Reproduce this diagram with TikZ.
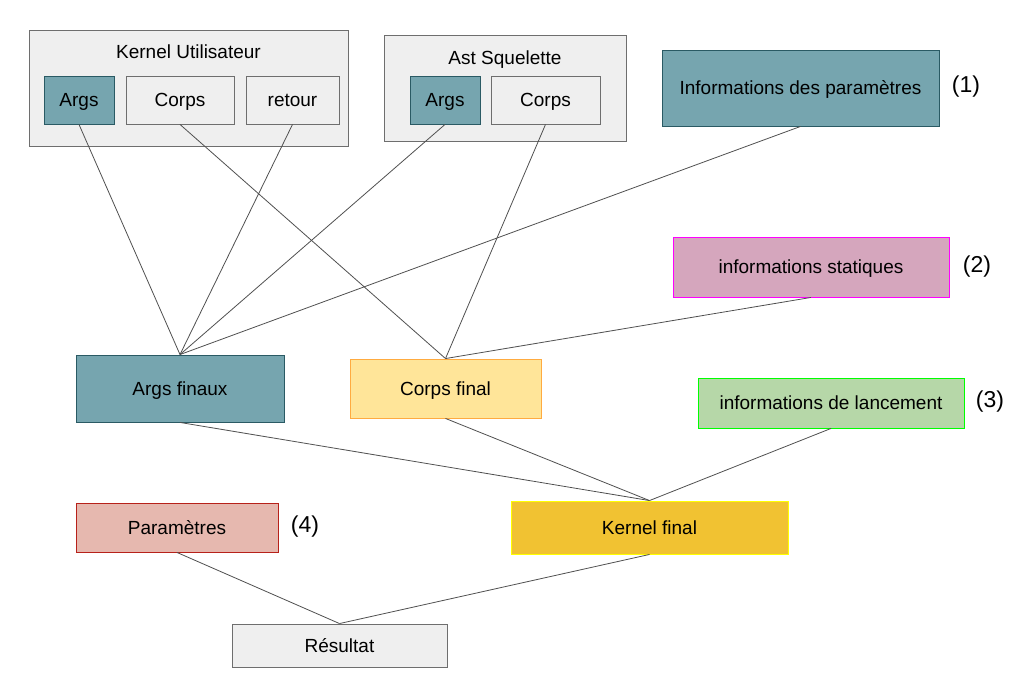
\documentclass[tikz,border=0pt]{standalone}
\usepackage{fontspec}
\setmainfont{Liberation Sans}
\definecolor{tealf}{HTML}{76A5AF}
\definecolor{teald}{HTML}{2A5A64}
\definecolor{grayf}{HTML}{EFEFEF}
\definecolor{grayd}{HTML}{6E6E6E}
\definecolor{pinkf}{HTML}{D5A6BD}
\definecolor{pinkd}{HTML}{FF00FF}
\definecolor{ylwf}{HTML}{FFE599}
\definecolor{ylwd}{HTML}{FFAB40}
\definecolor{grnf}{HTML}{B6D7A8}
\definecolor{grnd}{HTML}{00FF00}
\definecolor{redf}{HTML}{E6B8AF}
\definecolor{redd}{HTML}{B7211A}
\definecolor{goldf}{HTML}{F1C232}
\definecolor{goldd}{HTML}{FFFF00}
\definecolor{linec}{HTML}{505050}
\begin{document}
\begin{tikzpicture}[x=1pt,y=-1pt,
  box/.style={draw, line width=0.9pt, inner sep=0pt, font=\fontsize{19}{22}\selectfont, text=black, text height=13.6pt, text depth=0pt},
  graybox/.style={box, fill=grayf, draw=grayd},
  tealbox/.style={box, fill=tealf, draw=teald},
  title/.style={inner sep=0pt, font=\fontsize{19}{22}\selectfont, text height=13.6pt, text depth=0pt},
  num/.style={inner sep=0pt, font=\fontsize{23}{26}\selectfont},
  conn/.style={draw=linec, line width=0.8pt}]
\useasboundingbox[fill=white] (0,0) rectangle (1018,686);

% containers
\node[graybox, minimum width=319pt, minimum height=116pt] (ku) at (188.5,88) {};
\node[title] (kut) at (188.5,52) {Kernel Utilisateur};
\node[tealbox, minimum width=70pt, minimum height=48pt] (kua) at (79,100) {Args};
\node[graybox, minimum width=108pt, minimum height=48pt] (kuc) at (180,100) {Corps};
\node[graybox, minimum width=93pt, minimum height=48pt] (kur) at (292.5,100) {retour};

\node[graybox, minimum width=242pt, minimum height=106pt] (as) at (505,88) {};
\node[title] (ast) at (505,58) {Ast Squelette};
\node[tealbox, minimum width=70pt, minimum height=48pt] (asa) at (445,100) {Args};
\node[graybox, minimum width=109pt, minimum height=48pt] (asc) at (545.5,100) {Corps};

\node[tealbox, minimum width=277pt, minimum height=76pt] (ip) at (800.5,88) {Informations des paramètres};
\node[num] (n1) at (966,87) {(1)};
\node[box, fill=pinkf, draw=pinkd, minimum width=276pt, minimum height=60pt] (is) at (811,267) {informations statiques};
\node[num] (n2) at (977,267) {(2)};
\node[tealbox, minimum width=208pt, minimum height=67pt] (af) at (180,388.5) {Args finaux};
\node[box, fill=ylwf, draw=ylwd, minimum width=191pt, minimum height=59pt] (cf) at (445.5,388.5) {Corps final};
\node[box, fill=grnf, draw=grnd, minimum width=266pt, minimum height=50pt] (il) at (831,403) {informations de lancement};
\node[num] (n3) at (990,402) {(3)};
\node[box, fill=redf, draw=redd, minimum width=202pt, minimum height=49pt] (pa) at (177,527.5) {Paramètres};
\node[num] (n4) at (305,527) {(4)};
\node[box, fill=goldf, draw=goldd, minimum width=277pt, minimum height=53pt] (kf) at (649.5,527.5) {Kernel final};
\node[graybox, minimum width=215pt, minimum height=43pt] (re) at (339.5,645.5) {Résultat};

% connectors
\draw[conn] (kua.south) -- (af.north);
\draw[conn] (kur.south) -- (af.north);
\draw[conn] (asa.south) -- (af.north);
\draw[conn] (ip.south) -- (af.north);
\draw[conn] (kuc.south) -- (cf.north);
\draw[conn] (asc.south) -- (cf.north);
\draw[conn] (is.south) -- (cf.north);
\draw[conn] (af.south) -- (kf.north);
\draw[conn] (cf.south) -- (kf.north);
\draw[conn] (il.south) -- (kf.north);
\draw[conn] (pa.south) -- (re.north);
\draw[conn] (kf.south) -- (re.north);
\end{tikzpicture}
\end{document}
